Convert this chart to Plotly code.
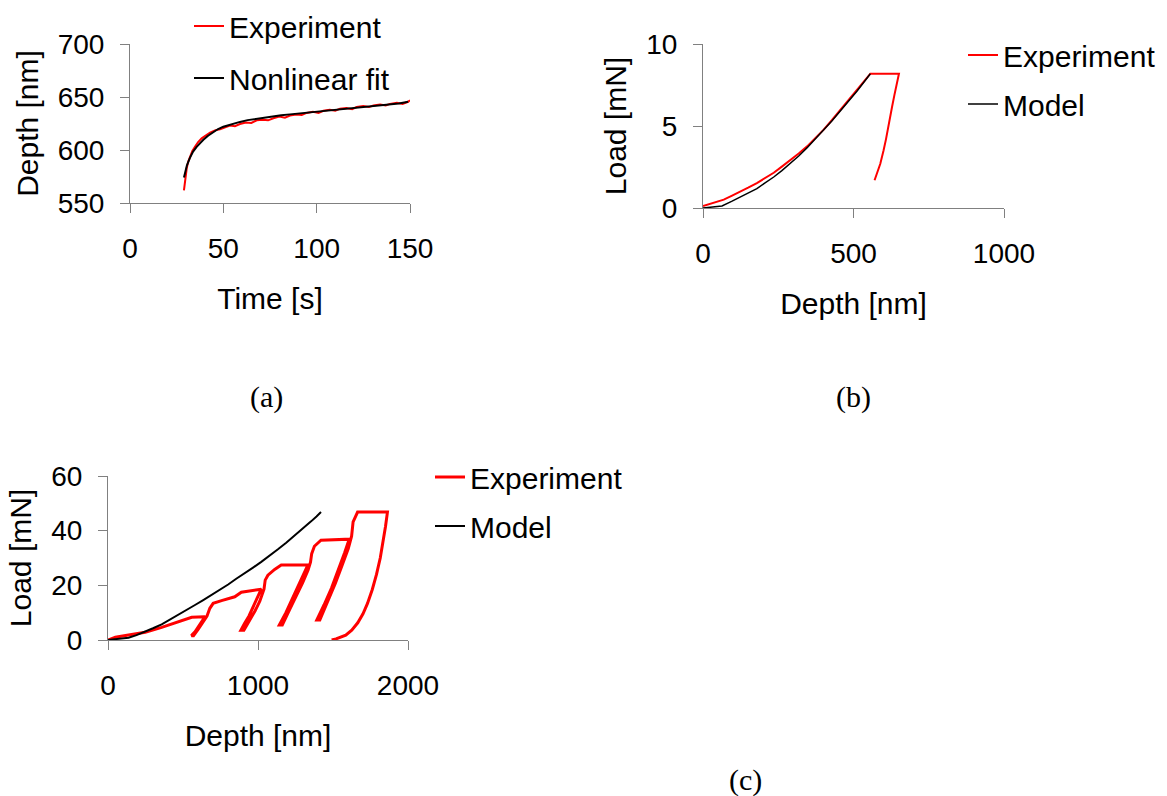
import plotly.graph_objects as go

# ---------------- Panel (a): creep, Depth vs Time ----------------
a_exp_t = [28.9, 29.5, 30.4, 31.2, 32.1, 33.4, 34.8, 36.5, 38.4, 40.5, 42.9, 45.5, 48.2, 51.0,
           53.6, 56.2, 58.9, 62.0, 65.0, 67.9, 71.0, 74.0, 76.8, 80.0, 83.0, 85.7, 89.0, 92.0,
           94.6, 98.0, 101.0, 103.6, 107.0, 110.0, 112.5, 116.0, 119.0, 121.4, 125.0, 128.0,
           130.4, 134.0, 137.0, 139.3, 143.0, 146.0, 149.0, 150.0]
a_exp_d = [562.0, 572.5, 583.0, 589.0, 594.0, 599.0, 603.0, 607.5, 611.0, 613.5, 616.5, 618.5,
           619.5, 621.5, 623.0, 622.5, 624.5, 626.0, 625.5, 628.0, 628.5, 628.0, 630.0, 631.5,
           630.5, 632.5, 633.5, 633.0, 635.0, 636.0, 635.0, 637.0, 638.0, 637.0, 639.0, 639.5,
           638.5, 640.5, 641.5, 640.5, 642.0, 643.0, 642.0, 643.5, 644.5, 643.5, 645.5, 647.0]
a_fit_t = [28.9, 29.6, 30.5, 32.1, 33.8, 35.7, 37.5, 39.3, 41.8, 44.6, 47.2, 50.0, 54.0, 58.9,
           63.0, 67.9, 72.0, 76.8, 81.0, 85.7, 90.0, 94.6, 99.0, 103.6, 108.0, 112.5, 117.0,
           121.4, 126.0, 130.4, 135.0, 139.3, 144.0, 149.0]
a_fit_d = [574.0, 580.0, 585.5, 592.6, 598.5, 603.0, 606.5, 609.6, 613.5, 617.0, 619.8, 622.0,
           624.3, 626.5, 628.2, 629.6, 630.8, 631.8, 632.7, 633.6, 634.4, 635.2, 636.1, 637.0,
           637.8, 638.6, 639.3, 640.0, 641.0, 642.0, 642.6, 643.2, 643.8, 645.5]

# ---------------- Panel (b): Load vs Depth ----------------
b_exp_depth = [0, 35, 69, 95, 124, 150, 179, 205, 235, 262, 290, 318, 346, 373, 401, 428, 456,
               484, 512, 535, 556, 651, 645, 636, 628, 617, 608, 600, 589, 570]
b_exp_load = [0.12, 0.30, 0.51, 0.74, 0.98, 1.24, 1.52, 1.82, 2.15, 2.52, 2.91, 3.32, 3.76,
              4.26, 4.78, 5.35, 5.96, 6.56, 7.17, 7.70, 8.19, 8.19, 7.58, 6.90, 6.16, 4.94,
              4.20, 3.52, 2.70, 1.69]
b_mod_depth = [0, 30, 63, 95, 124, 150, 179, 205, 235, 262, 290, 318, 346, 373, 401, 428, 456,
               484, 512, 535, 556]
b_mod_load = [0.0, 0.05, 0.12, 0.40, 0.67, 0.92, 1.18, 1.52, 1.89, 2.28, 2.70, 3.17, 3.68,
              4.20, 4.74, 5.30, 5.91, 6.50, 7.13, 7.68, 8.19]

# ---------------- Panel (c): cyclic Load vs Depth ----------------
c_exp_depth = [0, 49, 137, 248, 358, 469, 558, 646,
               626, 604, 580, 556,
               570, 602, 636, 660, 679, 701, 757, 845, 889, 956, 1022,
               998, 970, 940, 910, 886,
               906, 944, 980, 1012, 1040, 1048, 1066, 1111, 1155, 1332,
               1302, 1266, 1226, 1186, 1142,
               1162, 1210, 1256, 1298, 1334, 1350, 1358, 1376, 1420, 1608,
               1578, 1536, 1490, 1440, 1392,
               1412, 1465, 1516, 1561, 1602, 1624, 1634, 1664, 1863,
               1850, 1835, 1815, 1790, 1762, 1730, 1700, 1665, 1625, 1585, 1553, 1520, 1491]
c_exp_load = [0.0, 1.0, 1.8, 2.8, 4.6, 6.7, 8.3, 8.5,
              6.8, 4.8, 3.0, 1.6,
              1.6, 4.0, 6.6, 8.8, 11.6, 13.4, 14.4, 15.8, 17.5, 18.0, 18.6,
              15.8, 12.2, 8.8, 6.0, 3.6,
              3.6, 7.2, 10.6, 14.2, 18.6, 21.9, 23.7, 25.8, 27.4, 27.4,
              23.8, 19.2, 14.6, 10.0, 5.5,
              5.5, 11.0, 16.0, 21.0, 25.6, 28.5, 31.6, 34.3, 36.5, 36.9,
              32.0, 25.5, 19.0, 12.8, 7.3,
              7.3, 14.0, 20.8, 27.4, 33.5, 38.0, 43.2, 46.8, 46.8,
              41.5, 36.0, 30.0, 24.0, 18.5, 13.4, 9.6, 6.3, 3.6, 1.8, 1.0, 0.4, 0.0]
c_mod_depth = [0, 60, 137, 190, 248, 300, 358, 410, 469, 525, 580, 635, 690, 745, 801, 855,
               912, 967, 1022, 1078, 1133, 1188, 1243, 1300, 1354, 1390, 1420]
c_mod_load = [0.0, 0.3, 0.85, 1.8, 3.0, 4.3, 5.7, 7.3, 9.1, 10.9, 12.8, 14.6, 16.4, 18.3,
              20.3, 22.4, 24.4, 26.5, 28.6, 30.8, 33.2, 35.6, 38.1, 40.8, 43.4, 45.2, 46.8]

W, H = 1167, 796
RED, BLACK, GRAY = "#ff0000", "#000000", "#808080"
SANS = "Liberation Sans, Arial, sans-serif"
SERIF = "Liberation Serif, Times New Roman, serif"


def px(v):
    return v / W


def py(v):
    return 1 - v / H


fig = go.Figure()
fig.add_trace(go.Scatter(x=a_exp_t, y=a_exp_d, mode="lines", name="Experiment",
                         line=dict(color=RED, width=2), xaxis="x", yaxis="y",
                         legend="legend", legendgroup="a1"))
fig.add_trace(go.Scatter(x=a_fit_t, y=a_fit_d, mode="lines", name="Nonlinear fit",
                         line=dict(color=BLACK, width=2), xaxis="x", yaxis="y",
                         legend="legend", legendgroup="a2"))
fig.add_trace(go.Scatter(x=b_exp_depth, y=b_exp_load, mode="lines", name="Experiment",
                         line=dict(color=RED, width=2), xaxis="x2", yaxis="y2",
                         legend="legend2", legendgroup="b1"))
fig.add_trace(go.Scatter(x=b_mod_depth, y=b_mod_load, mode="lines", name="Model",
                         line=dict(color=BLACK, width=1.5), xaxis="x2", yaxis="y2",
                         legend="legend2", legendgroup="b2"))
fig.add_trace(go.Scatter(x=c_exp_depth, y=c_exp_load, mode="lines", name="Experiment",
                         line=dict(color=RED, width=3), xaxis="x3", yaxis="y3",
                         legend="legend3", legendgroup="c1"))
fig.add_trace(go.Scatter(x=c_mod_depth, y=c_mod_load, mode="lines", name="Model",
                         line=dict(color=BLACK, width=2), xaxis="x3", yaxis="y3",
                         legend="legend3", legendgroup="c2"))

axis_common = dict(showgrid=False, zeroline=False, showline=True, linecolor=GRAY, linewidth=1,
                   ticks="outside", ticklen=9, tickcolor=GRAY, tickwidth=1, automargin=False,
                   tickfont=dict(family=SANS, size=28, color="black"))
xcommon = dict(axis_common, ticklabelstandoff=11)
ycommon = dict(axis_common, ticklabelstandoff=10)
tfont = dict(family=SANS, size=30, color="black")
lfont = dict(family=SANS, size=30, color="black")

fig.update_layout(
    width=W, height=H,
    margin=dict(l=0, r=0, t=0, b=0, autoexpand=False),
    paper_bgcolor="white", plot_bgcolor="white",
    font=dict(family=SANS, color="black"),
    xaxis=dict(xcommon, domain=[px(130), px(410)], range=[0, 150], tickvals=[0, 50, 100, 150],
               anchor="y", title=dict(text="Time [s]", font=tfont, standoff=25)),
    yaxis=dict(ycommon, domain=[py(203), py(44)], range=[550, 700],
               tickvals=[550, 600, 650, 700], anchor="x",
               title=dict(text="Depth [nm]", font=tfont, standoff=10)),
    xaxis2=dict(xcommon, domain=[px(703), px(1004)], range=[0, 1000],
                tickvals=[0, 500, 1000], anchor="y2",
                title=dict(text="Depth [nm]", font=tfont, standoff=25)),
    yaxis2=dict(ycommon, domain=[py(208), py(44)], range=[0, 10], tickvals=[0, 5, 10],
                anchor="x2", title=dict(text="Load [mN]", font=tfont, standoff=10)),
    xaxis3=dict(xcommon, domain=[px(108), px(408)], range=[0, 2000],
                tickvals=[0, 1000, 2000], anchor="y3",
                title=dict(text="Depth [nm]", font=tfont, standoff=25)),
    yaxis3=dict(ycommon, domain=[py(640), py(476)], range=[0, 60],
                tickvals=[0, 20, 40, 60], anchor="x3",
                title=dict(text="Load [mN]", font=tfont, standoff=10)),
    legend=dict(x=px(189), y=py(0), xanchor="left", yanchor="top", font=lfont,
                tracegroupgap=10, bgcolor="rgba(0,0,0,0)"),
    legend2=dict(x=px(963), y=py(29), xanchor="left", yanchor="top", font=lfont,
                 tracegroupgap=7, bgcolor="rgba(0,0,0,0)"),
    legend3=dict(x=px(430), y=py(451), xanchor="left", yanchor="top", font=lfont,
                 tracegroupgap=7, bgcolor="rgba(0,0,0,0)"),
    annotations=[
        dict(text="(a)", x=px(266), y=py(397), xref="paper", yref="paper", showarrow=False,
             font=dict(family=SERIF, size=30, color="black"), xanchor="center", yanchor="middle"),
        dict(text="(b)", x=px(853), y=py(397), xref="paper", yref="paper", showarrow=False,
             font=dict(family=SERIF, size=30, color="black"), xanchor="center", yanchor="middle"),
        dict(text="(c)", x=px(745), y=py(780), xref="paper", yref="paper", showarrow=False,
             font=dict(family=SERIF, size=30, color="black"), xanchor="center", yanchor="middle"),
    ],
)

fig.write_html("out.html")
